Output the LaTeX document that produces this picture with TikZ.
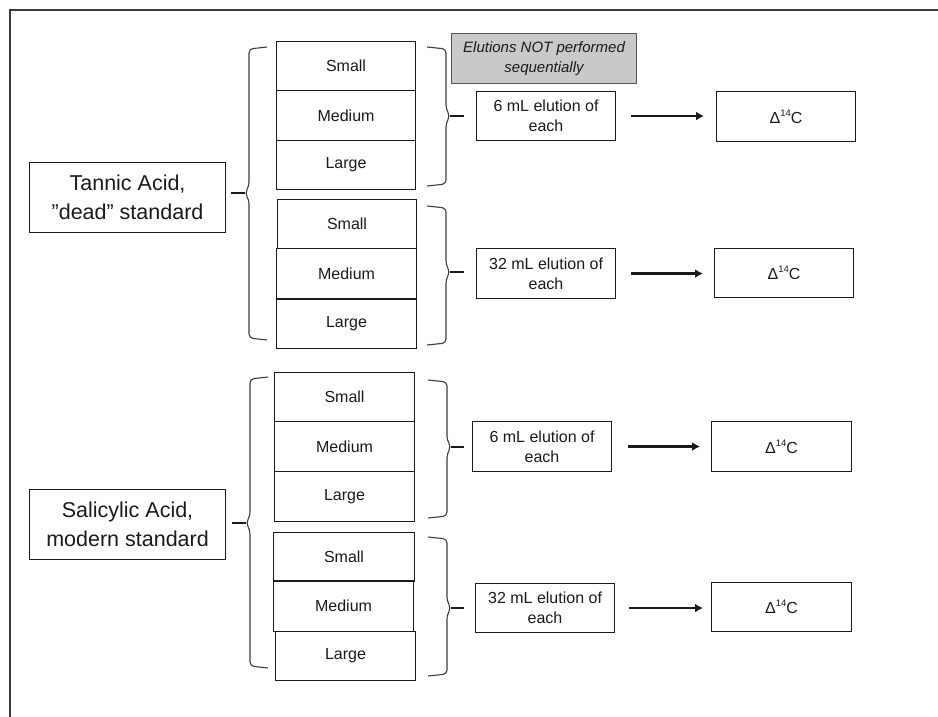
\documentclass[tikz,border=0pt]{standalone}
\usepackage{fontspec}
\setmainfont{Liberation Sans}
\usetikzlibrary{arrows.meta}
\definecolor{ink}{HTML}{1A1A1A}
\definecolor{framec}{HTML}{3A3A3A}
\definecolor{notefill}{HTML}{C9C9C9}
\definecolor{notedraw}{HTML}{555555}
\tikzset{
  box/.style={draw=ink, line width=1.1pt, inner sep=0pt, anchor=north west, text=ink, align=center},
  sizebox/.style={box, font=\fontsize{16}{18}\selectfont},
  elubox/.style={box, font=\fontsize{16}{20}\selectfont},
  mainbox/.style={box, font=\fontsize{21.5}{29}\selectfont},
  notebox/.style={box, draw=notedraw, fill=notefill, font=\fontsize{15}{20}\selectfont\itshape},
  bracec/.style={draw=ink!85, line width=1.1pt, rounded corners=4pt},
  tickline/.style={draw=ink, line width=2.2pt},
  arr/.style={draw=ink, line width=2.4pt, -{Latex[length=8pt,width=9pt]}},
}
\newcommand\dC{Δ\raisebox{0.45em}{\fontsize{9.5}{10}\selectfont 14}C}
% left brace: name, x of spine, top, bottom, tip y
\newcommand\lbrc[5]{%
  \coordinate (#1) at (#2-4,#5);
  \draw[bracec] (#2+18,#3) -- (#2,#3+2) -- (#2,#5-7) -- (#2-4,#5) -- (#2,#5+7) -- (#2,#4-2) -- (#2+18,#4);}
% right brace: name, x of spine, top, bottom, tip y
\newcommand\rbrc[5]{%
  \coordinate (#1) at (#2+4,#5);
  \draw[bracec] (#2-19,#3) -- (#2,#3+2) -- (#2,#5-7) -- (#2+4,#5) -- (#2,#5+7) -- (#2,#4-2) -- (#2-19,#4);}
\begin{document}
\begin{tikzpicture}[x=1pt,y=-1pt]
\useasboundingbox (0,0) rectangle (938,717);
% frame
\draw[framec, line width=1.5pt] (10,717) -- (10,10) -- (938,10);

% main labels
\node[mainbox, minimum width=196pt, minimum height=70pt] (tannic) at (29,162) {Tannic Acid,\\''dead'' standard};
\node[mainbox, minimum width=196pt, minimum height=70pt] (salic) at (29,489) {Salicylic Acid,\\modern standard};

% group 1
\node[sizebox, minimum width=139pt, minimum height=49pt] (s1) at (276,41) {Small};
\node[sizebox, minimum width=139pt, minimum height=50pt] (m1) at (276,90) {Medium};
\node[sizebox, minimum width=139pt, minimum height=49pt] (l1) at (276,140) {Large};
% group 2
\node[sizebox, minimum width=139pt, minimum height=49pt] (s2) at (277,199) {Small};
\node[sizebox, minimum width=140pt, minimum height=50pt] (m2) at (276,248) {Medium};
\node[sizebox, minimum width=140pt, minimum height=50pt] (l2) at (276,298) {Large};
\draw[ink, line width=2pt] (m2.south west) -- (m2.south east);
% group 3
\node[sizebox, minimum width=140pt, minimum height=49pt] (s3) at (274,372) {Small};
\node[sizebox, minimum width=140pt, minimum height=50pt] (m3) at (274,421) {Medium};
\node[sizebox, minimum width=140pt, minimum height=50pt] (l3) at (274,471) {Large};
% group 4
\node[sizebox, minimum width=141pt, minimum height=48pt] (s4) at (273,532) {Small};
\node[sizebox, minimum width=140pt, minimum height=51pt] (m4) at (273,580) {Medium};
\node[sizebox, minimum width=140pt, minimum height=49pt] (l4) at (275,631) {Large};
\draw[ink, line width=2pt] (s4.south west) -- (s4.south east);

% note
\node[notebox, minimum width=185pt, minimum height=50pt] (note) at (451,33) {Elutions NOT performed\\sequentially};

% elution boxes
\node[elubox, minimum width=139pt, minimum height=49pt] (e1) at (476,91) {6 mL elution of\\each};
\node[elubox, minimum width=139pt, minimum height=50pt] (e2) at (476,248) {32 mL elution of\\each};
\node[elubox, minimum width=139pt, minimum height=50pt] (e3) at (472,421) {6 mL elution of\\each};
\node[elubox, minimum width=139pt, minimum height=49pt] (e4) at (475,583) {32 mL elution of\\each};

% delta boxes
\node[elubox, minimum width=139pt, minimum height=50pt] (d1) at (716,91) {\dC};
\node[elubox, minimum width=139pt, minimum height=49pt] (d2) at (714,248) {\dC};
\node[elubox, minimum width=140pt, minimum height=50pt] (d3) at (711,421) {\dC};
\node[elubox, minimum width=140pt, minimum height=49pt] (d4) at (711,582) {\dC};

% braces
\lbrc{lb1}{249}{47}{340}{193}
\lbrc{lb2}{250}{377}{668}{523}
\rbrc{rb1}{446}{47}{186}{116}
\rbrc{rb2}{446}{206}{345}{272}
\rbrc{rb3}{447}{380}{518}{447}
\rbrc{rb4}{447}{537}{676}{608}

% ticks
\draw[tickline, shorten <=5pt] (tannic.east |- lb1) -- (lb1);
\draw[tickline, shorten <=6pt] (salic.east |- lb2) -- (lb2);
\draw[tickline, shorten >=12pt] (rb1) -- (e1.west |- rb1);
\draw[tickline, shorten >=12pt] (rb2) -- (e2.west |- rb2);
\draw[tickline, shorten >=8pt] (rb3) -- (e3.west |- rb3);
\draw[tickline, shorten >=11pt] (rb4) -- (e4.west |- rb4);

% arrows
\draw[arr, shorten <=15pt, shorten >=12pt] (e1.east) -- (e1.east -| d1.west);
\draw[arr, shorten <=15pt, shorten >=11pt] (e2.east) -- (e2.east -| d2.west);
\draw[arr, shorten <=16pt, shorten >=11pt] (e3.east) -- (e3.east -| d3.west);
\draw[arr, shorten <=14pt, shorten >=8pt] (e4.east) -- (e4.east -| d4.west);
\end{tikzpicture}
\end{document}
